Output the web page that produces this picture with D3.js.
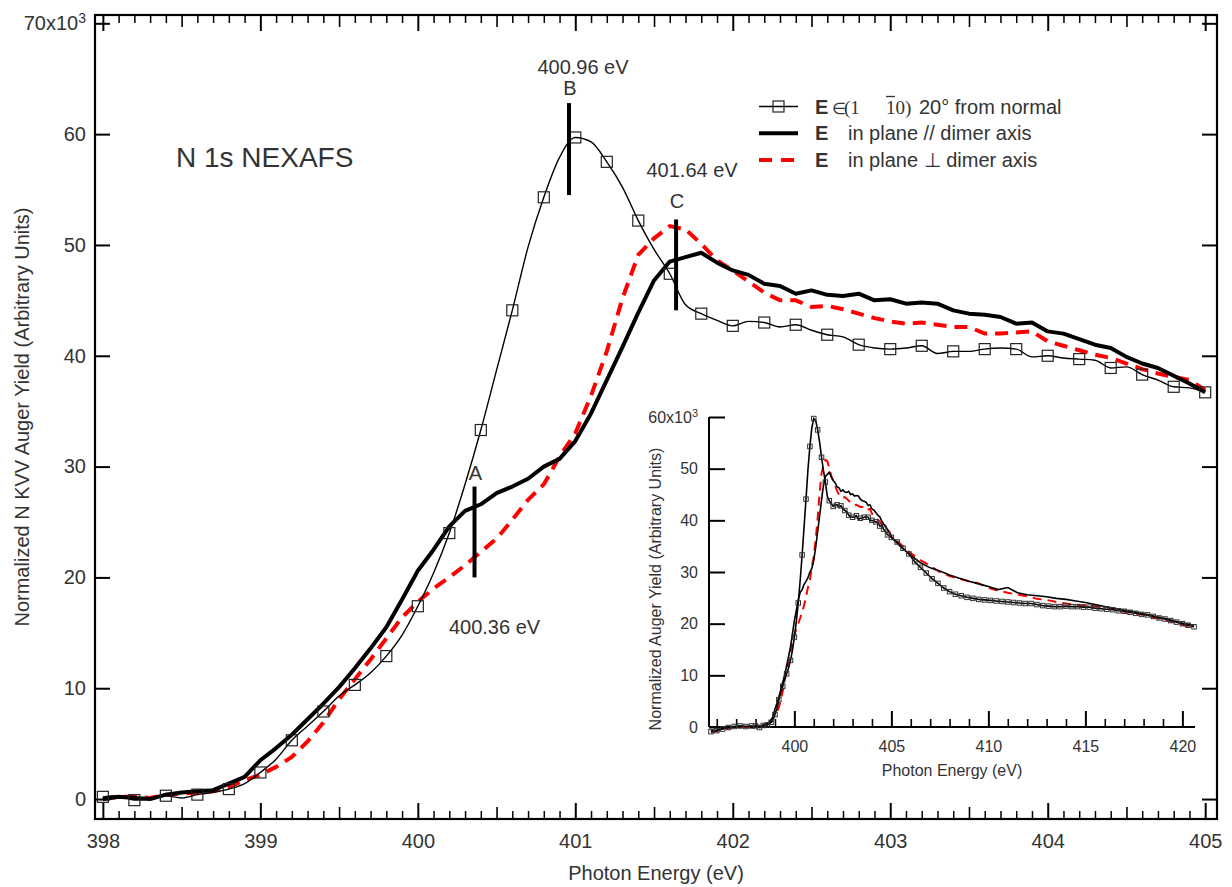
<!DOCTYPE html>
<html><head><meta charset="utf-8">
<script src="https://cdn.jsdelivr.net/npm/d3@7"></script>
<style>
body{margin:0;background:#fff}
svg{display:block}
</style>
</head><body>
<svg id="c" width="1232" height="887"></svg>
<script>
// ---------------- DATA ----------------
const mainEnergy = [398.0,398.1,398.2,398.3,398.4,398.5,398.6,398.7,398.8,398.9,
  399.0,399.1,399.2,399.3,399.4,399.5,399.6,399.7,399.8,399.9,
  400.0,400.1,400.2,400.3,400.4,400.5,400.6,400.7,400.8,400.9,
  401.0,401.1,401.2,401.3,401.4,401.5,401.6,401.7,401.8,401.9,
  402.0,402.1,402.2,402.3,402.4,402.5,402.6,402.7,402.8,402.9,
  403.0,403.1,403.2,403.3,403.4,403.5,403.6,403.7,403.8,403.9,
  404.0,404.1,404.2,404.3,404.4,404.5,404.6,404.7,404.8,404.9,405.0];

// E in (1 -1 0), 20 deg from normal (thin line, squares), units of 10^3
const normal20 = [0.2,0.3,-0.1,0.0,0.3,0.1,0.4,0.6,0.9,1.4,
  2.4,3.6,5.3,6.6,7.9,9.3,10.3,11.4,12.9,14.8,
  17.4,20.4,24.0,28.4,33.3,38.7,44.1,49.8,54.3,57.9,
  59.7,59.3,57.5,55.2,52.2,49.6,47.4,44.6,43.8,43.2,
  42.7,43.1,43.0,42.6,42.8,42.3,41.9,41.7,41.0,40.7,
  40.6,40.7,40.9,40.2,40.4,40.4,40.6,40.7,40.6,39.9,
  40.0,39.8,39.7,39.6,38.9,39.0,38.3,37.8,37.2,37.1,36.7];

// E in plane // dimer axis (thick black)
const parallelDimer = [0.0,0.2,0.1,0.0,0.4,0.6,0.7,0.8,1.4,2.0,
  3.5,4.6,5.8,7.2,8.6,10.1,11.8,13.6,15.5,18.0,
  20.6,22.5,24.6,26.0,26.6,27.6,28.2,28.9,30.0,30.7,
  32.3,34.8,37.8,40.8,43.9,46.8,48.5,48.9,49.3,48.4,
  47.7,47.3,46.5,46.3,45.6,45.9,45.5,45.4,45.6,45.0,
  45.1,44.7,44.8,44.7,44.1,43.8,43.7,43.5,42.9,43.0,
  42.2,42.0,41.5,41.0,40.7,39.9,39.3,38.9,38.2,37.5,36.7];

// E in plane perpendicular to dimer axis (red dashed)
const perpDimer = [0.0,0.2,0.2,0.1,0.4,0.5,0.6,0.7,1.1,1.7,
  2.2,2.9,3.8,5.2,6.9,9.0,10.8,12.6,14.5,16.4,
  17.8,19.0,20.0,21.1,22.3,23.5,25.2,27.0,28.4,30.9,
  33.0,36.4,40.4,45.2,49.1,50.6,51.7,51.4,50.1,48.6,
  47.7,46.7,45.7,45.0,45.0,44.4,44.5,44.2,43.8,43.4,
  43.1,42.9,43.0,42.8,42.6,42.6,42.0,42.0,42.1,42.2,
  41.3,40.9,40.5,40.1,39.8,39.3,38.8,38.4,38.1,37.8,36.9];

// Inset: pre-edge part (below 398 eV)
const insetPreEnergy   = [395.7,396.0,396.3,396.6,396.9,397.2,397.5,397.8];
const insetPreNormal   = [-0.9,-0.7,-0.4,-0.1,0.1,0.2,0.1,0.2];
const insetPreParallel = [-0.8,-0.6,-0.3,-0.1,0.1,0.2,0.1,0.1];
const insetPrePerp     = [-1.0,-0.8,-0.5,-0.3,0.0,0.1,0.0,0.1];

// Inset: tail part (above 405 eV)
const insetTailEnergyNormal = [405.3,405.6,405.9,406.2,406.5,406.8,407.1,407.4,407.7,408.0,
  408.3,408.6,408.9,409.2,409.5,409.8,410.1,410.4,410.7,411.0,
  411.3,411.6,411.9,412.2,412.5,412.8,413.1,413.4,413.7,414.0,
  414.3,414.6,414.9,415.2,415.5,415.8,416.1,416.4,416.7,417.0,
  417.3,417.6,417.9,418.2,418.5,418.8,419.1,419.4,419.7,420.0,420.3,420.6];
const insetTailNormal = [35.8,34.6,33.5,32.0,30.9,29.8,28.7,27.8,26.9,26.2,
  25.7,25.4,25.1,24.9,24.7,24.6,24.5,24.4,24.3,24.2,
  24.1,24.0,23.9,23.9,23.7,23.5,23.4,23.3,23.3,23.4,
  23.3,23.3,23.2,23.2,23.0,22.9,22.8,22.7,22.5,22.4,
  22.2,22.0,21.8,21.7,21.4,21.1,20.9,20.6,20.3,20.0,19.7,19.4];
const insetTailEnergy = [405.5,406.0,406.5,407.0,407.5,408.0,408.5,409.0,409.5,410.0,
  410.5,411.0,411.5,412.0,412.5,413.0,413.5,414.0,414.5,415.0,
  415.5,416.0,416.5,417.0,417.5,418.0,418.5,419.0,419.5,420.0,420.6];
const insetTailParallel = [34.8,33.2,31.8,30.8,30.2,29.4,28.8,28.2,27.7,27.2,
  26.6,27.0,26.0,25.6,25.4,25.2,24.9,24.7,24.4,24.1,
  23.7,23.3,23.0,22.6,22.3,21.9,21.5,21.1,20.6,20.1,19.7];
const insetTailPerp = [35.3,33.6,32.3,31.2,30.0,29.2,28.7,28.2,27.8,26.9,
  26.4,26.0,25.6,25.3,24.8,24.6,24.2,23.9,23.6,23.5,
  23.4,23.2,22.8,22.3,22.0,21.7,21.2,20.8,20.3,19.8,19.1];

// Peak markers
const peakLetters  = ['A','B','C'];
const peakEnergies = [400.36,400.96,401.64];
const peakBarTop   = [28.2,62.8,52.3];
const peakBarBot   = [20.0,54.5,44.1];

// Axis ticks
const mainXTicks   = [398,399,400,401,402,403,404,405];
const mainYTicks   = [0,10,20,30,40,50,60,70];
const insetXTicks  = [400,405,410,415,420];
const insetYTicks  = [0,10,20,30,40,50,60];

const legendNames = ['in plane // dimer axis','in plane \u22A5 dimer axis'];

// ---------------- DRAW ----------------
const SANS = '"Liberation Sans", Arial, Helvetica, sans-serif';
const SERIF = '"Liberation Serif", "Times New Roman", serif';
const TXT = '#333';
const svg = d3.select('#c');

const M = {l:95, r:1217, t:15, b:819};
const x = d3.scaleLinear().domain([397.95,405.075]).range([M.l,M.r]);
const y = d3.scaleLinear().domain([-1.8,70.75]).range([M.b,M.t]);

function axisG(fn, scale, vals, size, tr, fmt, pad, sw, fs){
  const a = fn(scale).tickValues(vals).tickSize(size).tickSizeOuter(0)
     .tickPadding(pad).tickFormat(fmt || (()=>''));
  const g = svg.append('g').attr('transform', tr).call(a);
  g.select('.domain').remove();
  g.attr('font-family', SANS).attr('font-size', fs||20);
  g.selectAll('line').attr('stroke','#000').attr('stroke-width', sw);
  g.selectAll('text').attr('fill', TXT);
  return g;
}
const halfX = d3.range(398.5, 405, 1);
const tenthX = d3.range(3980, 4051, 1).filter(v => v % 5 !== 0).map(v => v/10);

// bottom
axisG(d3.axisBottom, x, mainXTicks, -16, `translate(0,${M.b})`, d3.format('d'), 15, 2, 20);
axisG(d3.axisBottom, x, halfX, -12, `translate(0,${M.b})`, null, 0, 1.6);
axisG(d3.axisBottom, x, tenthX, -8, `translate(0,${M.b})`, null, 0, 1.5);
// top
axisG(d3.axisTop, x, mainXTicks, -16, `translate(0,${M.t})`, null, 0, 2);
axisG(d3.axisTop, x, halfX, -12, `translate(0,${M.t})`, null, 0, 1.6);
axisG(d3.axisTop, x, tenthX, -8, `translate(0,${M.t})`, null, 0, 1.5);
// left
const gyl = axisG(d3.axisLeft, y, mainYTicks, -15, `translate(${M.l},0)`, d3.format('d'), 9, 2, 20);
gyl.selectAll('.tick').filter(d => d === 70).select('text').each(function(){
  const t = d3.select(this); t.text('');
  t.append('tspan').text('70x10');
  t.append('tspan').attr('dy','-0.55em').attr('font-size',14).text('3');
});
// right
axisG(d3.axisRight, y, mainYTicks, -15, `translate(${M.r},0)`, null, 0, 2);

// frame
svg.append('rect').attr('x',M.l).attr('y',M.t).attr('width',M.r-M.l).attr('height',M.b-M.t)
  .attr('fill','none').attr('stroke','#000').attr('stroke-width',2.2);

// axis titles
svg.append('text').attr('x',(M.l+M.r)/2).attr('y',880).attr('text-anchor','middle')
  .attr('font-family',SANS).attr('font-size',20).attr('fill',TXT).text('Photon Energy (eV)');
svg.append('text').attr('transform',`translate(29,${(M.t+M.b)/2}) rotate(-90)`).attr('text-anchor','middle')
  .attr('font-family',SANS).attr('font-size',20).attr('fill',TXT).text('Normalized N KVV Auger Yield (Arbitrary Units)');

svg.append('text').attr('x',176).attr('y',167).attr('font-family',SANS).attr('font-size',28)
  .attr('fill',TXT).text('N 1s NEXAFS');

// main series
const mainNormal = mainEnergy.map((e,i)=>[e, normal20[i]]);
const mainPar = mainEnergy.map((e,i)=>[e, parallelDimer[i]]);
const mainPerp = mainEnergy.map((e,i)=>[e, perpDimer[i]]);
const lineM = d3.line().x(d=>x(d[0])).y(d=>y(d[1]));
const lineMs = d3.line().x(d=>x(d[0])).y(d=>y(d[1])).curve(d3.curveMonotoneX);

svg.append('path').datum(mainPerp).attr('d',lineM).attr('fill','none').attr('stroke','#f00')
  .attr('stroke-width',4).attr('stroke-dasharray','13,8');
svg.append('path').datum(mainPar).attr('d',lineM).attr('fill','none').attr('stroke','#000')
  .attr('stroke-width',4).attr('stroke-linejoin','round');
svg.append('path').datum(mainNormal).attr('d',lineMs).attr('fill','none').attr('stroke','#000')
  .attr('stroke-width',1.4);
const SQ = 11;
svg.append('g').selectAll('rect').data(mainNormal.filter((d,i)=>i%2===0)).join('rect')
  .attr('x',d=>x(d[0])-SQ/2).attr('y',d=>y(d[1])-SQ/2).attr('width',SQ).attr('height',SQ)
  .attr('fill','none').attr('stroke','#222').attr('stroke-width',1.2);

// peak bars & labels
const barLayout = [{ldy:-7, edx:20, edy:57}, {ldy:-8, edx:14, edy:-29}, {ldy:-11, edx:16, edy:-39}];
peakEnergies.forEach((e,i)=>{
  const lay = barLayout[i];
  svg.append('line').attr('x1',x(e)).attr('x2',x(e)).attr('y1',y(peakBarTop[i])).attr('y2',y(peakBarBot[i]))
    .attr('stroke','#000').attr('stroke-width',4);
  const ly = y(peakBarTop[i]) + lay.ldy;
  svg.append('text').attr('x',x(e)+1).attr('y',ly).attr('text-anchor','middle')
    .attr('font-family',SANS).attr('font-size',20).attr('fill',TXT).text(peakLetters[i]);
  const ey = i===0 ? y(peakBarBot[i]) + lay.edy : ly + lay.edy + 8;
  svg.append('text').attr('x',x(e)+lay.edx).attr('y',ey).attr('text-anchor','middle')
    .attr('font-family',SANS).attr('font-size',20).attr('fill',TXT).text(e.toFixed(2)+' eV');
});

// legend
const LX0 = 759, LX1 = 798, LY = [106.5,133.3,160];
svg.append('line').attr('x1',LX0).attr('x2',LX1).attr('y1',LY[0]).attr('y2',LY[0]).attr('stroke','#000').attr('stroke-width',1.4);
svg.append('rect').attr('x',(LX0+LX1)/2-SQ/2).attr('y',LY[0]-SQ/2).attr('width',SQ).attr('height',SQ)
  .attr('fill','none').attr('stroke','#222').attr('stroke-width',1.2);
svg.append('line').attr('x1',LX0).attr('x2',LX1).attr('y1',LY[1]).attr('y2',LY[1]).attr('stroke','#000').attr('stroke-width',4);
svg.append('line').attr('x1',LX0).attr('x2',LX1+1).attr('y1',LY[2]).attr('y2',LY[2]).attr('stroke','#f00').attr('stroke-width',4).attr('stroke-dasharray','13,9');
// row 1: E ∈ (1 1̄0) 20° from normal, as one text element
const r1 = LY[0]+7;
const t1 = svg.append('text').attr('x',815).attr('y',r1).attr('font-family',SANS).attr('font-size',20).attr('fill',TXT);
t1.append('tspan').attr('font-weight','bold').text('E');
t1.append('tspan').attr('x',832).attr('font-family',SERIF).attr('font-size',16).text('\u2208');
t1.append('tspan').attr('x',844).attr('font-family',SERIF).attr('font-size',19).text('(1');
t1.append('tspan').attr('x',886).attr('font-family',SERIF).attr('font-size',19).text('10)');
t1.append('tspan').attr('x',919).text('20\u00B0 from normal');
svg.append('line').attr('x1',886).attr('x2',895).attr('y1',r1-17).attr('y2',r1-17).attr('stroke',TXT).attr('stroke-width',1.3);
// rows 2, 3
legendNames.forEach((n,i)=>{
  const t = svg.append('text').attr('x',815).attr('y',LY[i+1]+7).attr('font-family',SANS).attr('font-size',20).attr('fill',TXT);
  t.append('tspan').attr('font-weight','bold').text('E');
  t.append('tspan').attr('x',848).text(n);
});

// ---------------- INSET ----------------
const xi = d3.scaleLinear().domain([395.6,420.65]).range([709,1195]);
const yi = d3.scaleLinear().domain([0,60]).range([727,417]);

axisG(d3.axisBottom, xi, insetXTicks, -16, `translate(0,727)`, d3.format('d'), 14, 2, 16);
axisG(d3.axisBottom, xi, d3.range(396,421,1).filter(v=>v%5!==0), -8, `translate(0,727)`, null, 0, 1.6);
axisG(d3.axisLeft, yi, insetYTicks, -16, `translate(709,0)`, d3.format('d'), 11, 2, 16)
  .selectAll('.tick').filter(d=>d===60).select('text').each(function(){
    const t = d3.select(this); t.text('');
    t.append('tspan').text('60x10');
    t.append('tspan').attr('dy','-0.55em').attr('font-size',11).text('3');
  });
svg.append('line').attr('x1',709).attr('x2',709).attr('y1',417).attr('y2',727).attr('stroke','#000').attr('stroke-width',2);
svg.append('line').attr('x1',709).attr('x2',1195).attr('y1',727).attr('y2',727).attr('stroke','#000').attr('stroke-width',2);

svg.append('text').attr('x',952).attr('y',776).attr('text-anchor','middle')
  .attr('font-family',SANS).attr('font-size',16).attr('fill',TXT).text('Photon Energy (eV)');
svg.append('text').attr('transform',`translate(661,589) rotate(-90)`).attr('text-anchor','middle')
  .attr('font-family',SANS).attr('font-size',16).attr('fill',TXT).text('Normalized Auger Yield (Arbitrary Units)');

const insetNormal = insetPreEnergy.map((e,i)=>[e,insetPreNormal[i]])
  .concat(mainNormal).concat(insetTailEnergyNormal.map((e,i)=>[e,insetTailNormal[i]]));
const insetPar = insetPreEnergy.map((e,i)=>[e,insetPreParallel[i]])
  .concat(mainPar).concat(insetTailEnergy.map((e,i)=>[e,insetTailParallel[i]]));
const insetPerpD = insetPreEnergy.map((e,i)=>[e,insetPrePerp[i]])
  .concat(mainPerp).concat(insetTailEnergy.map((e,i)=>[e,insetTailPerp[i]]));
const lineI = d3.line().x(d=>xi(d[0])).y(d=>yi(d[1]));

svg.append('path').datum(insetPerpD).attr('d',lineI).attr('fill','none').attr('stroke','#f00')
  .attr('stroke-width',2).attr('stroke-dasharray','9,6');
svg.append('path').datum(insetPar).attr('d',lineI).attr('fill','none').attr('stroke','#000')
  .attr('stroke-width',1.6);
svg.append('path').datum(insetNormal).attr('d',lineI).attr('fill','none').attr('stroke','#000')
  .attr('stroke-width',1.6);
const insetMarks = insetNormal.filter(d => d[0] < 398 || d[0] > 405.05 || Math.round(d[0]*10) % 2 === 0);
const SQi = 4.5;
svg.append('g').selectAll('rect').data(insetMarks).join('rect')
  .attr('x',d=>xi(d[0])-SQi/2).attr('y',d=>yi(d[1])-SQi/2).attr('width',SQi).attr('height',SQi)
  .attr('fill','none').attr('stroke','#333').attr('stroke-width',1);
</script>
</body></html>
